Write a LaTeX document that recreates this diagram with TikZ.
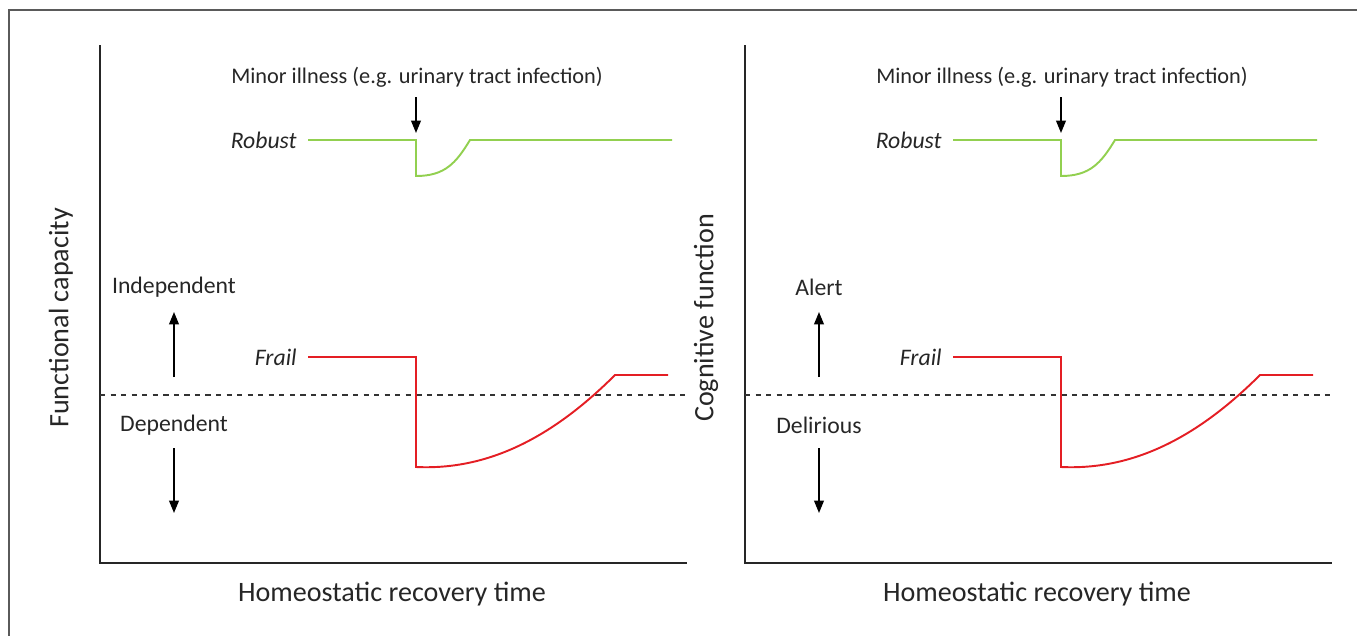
\documentclass[tikz,border=0pt]{standalone}
\usepackage{fontspec}
\setmainfont{Carlito}
\usetikzlibrary{arrows.meta,positioning,calc}
\definecolor{robustgreen}{RGB}{146,208,80}
\definecolor{frailred}{RGB}{228,30,36}
\definecolor{framegray}{RGB}{90,90,90}
\tikzset{
  axis/.style      = {line width=1.4pt, black!85},
  threshold/.style = {dashed, line width=0.9pt, black!80},
  robust/.style    = {line width=1.1pt, robustgreen},
  frail/.style     = {line width=1.1pt, frailred},
  marker/.style    = {-{Triangle[length=7pt,width=5.5pt]}, line width=0.9pt},
  lbl/.style       = {font=\fontsize{13.5}{15}\selectfont, text=black!85, inner sep=0pt},
  illlbl/.style    = {lbl, font=\fontsize{12.7}{15}\selectfont},
  axlbl/.style     = {font=\fontsize{16}{18}\selectfont, text=black!85, inner sep=0pt},
  curvelbl/.style  = {lbl, font=\fontsize{13.5}{15}\selectfont\itshape, anchor=east}
}

\begin{document}
\begin{tikzpicture}[x=0.02cm, y=-0.02cm]
  \useasboundingbox (0,0) rectangle (1357,636);
  % frame of the figure
  \draw[framegray, line width=1.2pt] (9,700) |- (1400,10);

  \foreach \p/\dx/\ytitle/\up/\down in
      {L/0/Functional capacity/Independent/Dependent,
       R/645/Cognitive function/Alert/Delirious}{
    \begin{scope}[xshift=\dx*0.02cm]
      % axes
      \coordinate (top\p)    at (100,45);
      \coordinate (origin\p) at (100,563);
      \coordinate (end\p)    at (687,563);
      \draw[axis] (top\p) -- (origin\p) -- (end\p);
      \draw[threshold] (100,395) -- (687,395);

      % axis titles
      \node[axlbl, rotate=90] (ytitle\p) at (61,318) {\ytitle};
      \node[axlbl] (xtitle\p) at (392,594) {Homeostatic recovery time};

      % direction labels
      \node[lbl] (up\p)   at (174,287) {\up};
      \node[lbl] (down\p) at (174,425) {\down};
      \coordinate (upA\p)   at (174,377);
      \coordinate (upB\p)   at (174,312);
      \coordinate (downA\p) at (174,448);
      \coordinate (downB\p) at (174,513);
      \draw[marker] (upA\p) -- (upB\p);
      \draw[marker] (downA\p) -- (downB\p);

      % illness
      \node[illlbl] (ill\p) at (417,77) {Minor illness (e.g. urinary tract infection)};
      \coordinate (hit\p) at (416,133);
      \draw[marker] ($(ill\p.south)+(-1,10)$) -- (hit\p);

      % robust trajectory
      \node[curvelbl] (rob\p) at (297,140) {Robust};
      \draw[robust] (308,140) -- (416,140) -- (416,176)
        .. controls (445,176) and (456,163) .. (470,140) -- (672,140);

      % frail trajectory
      \node[curvelbl] (fra\p) at (297,357) {Frail};
      \draw[frail] (308,357) -- (416,357) -- (416,467)
        .. controls (480,470) and (545,445) .. (615,375) -- (668,375);
    \end{scope}
  }
\end{tikzpicture}
\end{document}
